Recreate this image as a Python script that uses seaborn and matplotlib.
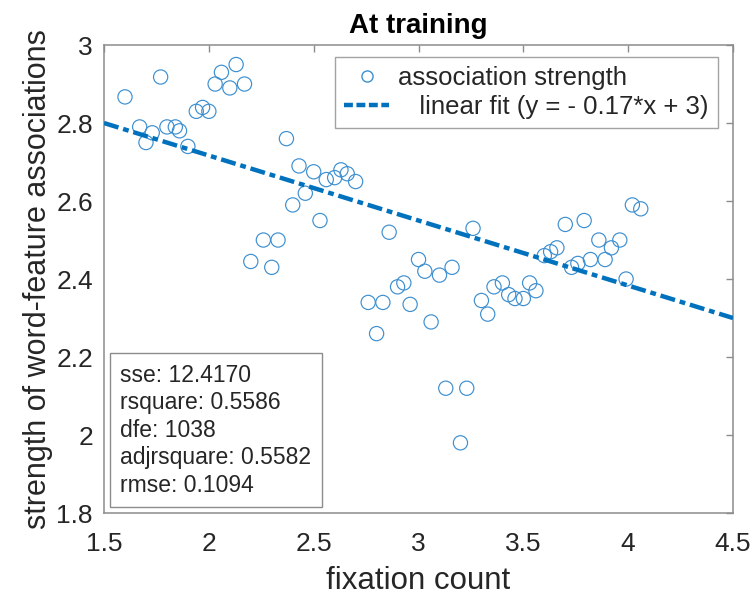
import matplotlib
matplotlib.use("Agg")
import matplotlib.pyplot as plt
from matplotlib.lines import Line2D
import seaborn as sns
import pandas as pd

# ---- data ----
fixation_count = [1.60, 1.77, 1.67, 1.70, 1.73, 1.80, 1.84, 1.86, 1.90, 1.94,
                  1.97, 2.00, 2.03, 2.06, 2.10, 2.13, 2.17, 2.20, 2.26, 2.30,
                  2.33, 2.37, 2.40, 2.43, 2.46, 2.50, 2.53, 2.56, 2.60, 2.63,
                  2.66, 2.70, 2.76, 2.80, 2.83, 2.86, 2.90, 2.93, 2.96, 3.00,
                  3.03, 3.06, 3.10, 3.13, 3.16, 3.20, 3.23, 3.26, 3.30, 3.33,
                  3.36, 3.40, 3.43, 3.46, 3.50, 3.53, 3.56, 3.60, 3.63, 3.66,
                  3.70, 3.73, 3.76, 3.79, 3.82, 3.86, 3.89, 3.92, 3.96, 3.99,
                  4.02, 4.06]
association_strength = [2.867, 2.918, 2.79, 2.75, 2.775, 2.79, 2.79, 2.78, 2.74, 2.83,
                        2.84, 2.83, 2.90, 2.93, 2.89, 2.95, 2.90, 2.445, 2.50, 2.43,
                        2.50, 2.76, 2.59, 2.69, 2.62, 2.675, 2.55, 2.655, 2.66, 2.68,
                        2.67, 2.65, 2.34, 2.26, 2.34, 2.52, 2.38, 2.39, 2.335, 2.45,
                        2.42, 2.29, 2.41, 2.12, 2.43, 1.98, 2.12, 2.53, 2.345, 2.31,
                        2.38, 2.39, 2.36, 2.35, 2.35, 2.39, 2.37, 2.46, 2.47, 2.48,
                        2.54, 2.43, 2.44, 2.55, 2.45, 2.50, 2.45, 2.48, 2.50, 2.40,
                        2.59, 2.58]
fit_x = [1.5, 4.5]
fit_y = [2.80, 2.30]

x_ticks = [1.5, 2, 2.5, 3, 3.5, 4, 4.5]
x_ticklabels = ["1.5", "2", "2.5", "3", "3.5", "4", "4.5"]
y_ticks = [1.8, 2.0, 2.2, 2.4, 2.6, 2.8, 3.0]
y_ticklabels = ["1.8", "2", "2.2", "2.4", "2.6", "2.8", "3"]

stats_lines = ["sse: 12.4170", "rsquare: 0.5586", "dfe: 1038",
               "adjrsquare: 0.5582", "rmse: 0.1094"]

title = "At training"
x_label = "fixation count"
y_label = "strength of word-feature associations"
scatter_label = "association strength"
fit_label = "   linear fit (y = - 0.17*x + 3)"

# ---- style ----
sns.set_style("white")
plt.rcParams["font.family"] = ["Liberation Sans", "DejaVu Sans"]

BLUE = "#0072BD"
AXCOL = "#8c8c8c"
TXT = "#262626"

fig = plt.figure(figsize=(7.56, 5.98), dpi=100)
ax = fig.add_axes([0.1376, 0.1421, 0.8320, 0.7826])

df = pd.DataFrame({"x": fixation_count, "y": association_strength})
fit_df = pd.DataFrame({"x": fit_x, "y": fit_y})

sns.scatterplot(data=df, x="x", y="y", ax=ax, marker="o", s=105,
                color=BLUE, facecolors="none", edgecolor="#3d8fd0",
                linewidth=0.85, legend=False, zorder=3)
sns.lineplot(data=fit_df, x="x", y="y", ax=ax, color=BLUE, linewidth=3.2,
             linestyle=(0, (3.4, 1.1, 1.3, 1.1)), legend=False, zorder=4)

ax.set_xlim(1.5, 4.5)
ax.set_ylim(1.8, 3.0)
ax.set_xticks(x_ticks)
ax.set_xticklabels(x_ticklabels)
ax.set_yticks(y_ticks)
ax.set_yticklabels(y_ticklabels)

for sp in ax.spines.values():
    sp.set_visible(True)
    sp.set_color(AXCOL)
    sp.set_linewidth(1.1)

ax.tick_params(axis="both", which="both", direction="in", length=5,
               width=1.0, color=AXCOL, labelcolor=TXT, labelsize=19,
               top=True, right=True)
ax.tick_params(axis="x", pad=14)
ax.tick_params(axis="y", pad=8)

ax.set_xlabel(x_label, fontsize=22.5, color=TXT, labelpad=7)
ax.set_ylabel(y_label, fontsize=22, color=TXT, labelpad=2)
ax.set_title(title, fontsize=20, fontweight="bold", color="black", pad=9)

handles = [
    Line2D([], [], marker="o", linestyle="none", markersize=8,
           markerfacecolor="none", markeredgecolor="#3d8fd0", markeredgewidth=1.0),
    Line2D([], [], color=BLUE, linewidth=3.2, linestyle=(0, (2.0, 0.8))),
]
leg = ax.legend(handles, [scatter_label, fit_label], loc="upper right",
                bbox_to_anchor=(0.976, 0.974), borderaxespad=0,
                fontsize=18.5, frameon=True, fancybox=False,
                handlelength=1.75, handletextpad=0.35, labelspacing=0.2,
                borderpad=0.35)
leg.get_frame().set_edgecolor(AXCOL)
leg.get_frame().set_linewidth(1.0)
for t in leg.get_texts():
    t.set_color(TXT)

ax.text(0.026, 0.035, "\n".join(stats_lines), transform=ax.transAxes,
        ha="left", va="bottom", fontsize=16.5, color=TXT, linespacing=1.25,
        bbox=dict(boxstyle="square,pad=0.45", facecolor="white",
                  edgecolor=AXCOL, linewidth=1.0), zorder=6)

fig.savefig("out.png", dpi=100)
